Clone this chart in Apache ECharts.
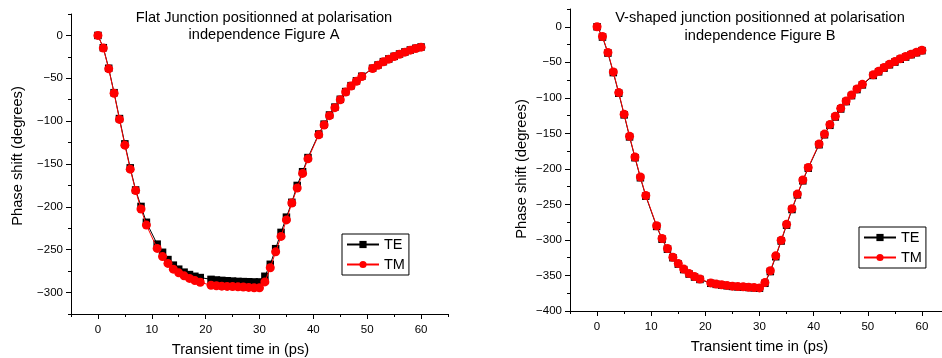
<!DOCTYPE html>
<html>
<head>
<meta charset="utf-8">
<script src="https://cdn.jsdelivr.net/npm/echarts@6/dist/echarts.min.js"></script>
<style>
html,body{margin:0;padding:0;background:#fff;}
#chart{width:942px;height:358px;}
</style>
</head>
<body>
<div id="chart"></div>
<script>
// ---- data ----
var timeX = [0,1,2,3,4,5,6,7,8,9,11,12,13,14,15,16,17,18,19,21,22,23,24,25,26,27,28,29,30,31,32,33,34,35,36,37,38,39,41,42,43,44,45,46,47,48,49,51,52,53,54,55,56,57,58,59,60];

var flatTE = [0,-14.3,-38.3,-66.8,-97,-126.5,-154.5,-180.3,-199.5,-218,
  -243.5,-253,-261.5,-268,-272.7,-276.2,-279,-281,-282.5,
  -284.6,-285.3,-285.8,-286.2,-286.6,-287,-287.2,-287.4,-287.6,-287.6,-281,-267,-248.8,-229.8,-212,-194.7,-175,-159,-142.5,
  -115,-103.5,-92.8,-83.6,-74.5,-65.5,-58.6,-53,-47.6,
  -38.3,-34.5,-30.6,-27.5,-24.4,-21.7,-19.3,-17,-15,-13.5];
var flatTM = [0,-14.8,-39,-67.5,-98,-128,-156,-181,-202.5,-221.3,
  -248.5,-258,-266,-272.7,-277,-280.5,-283.5,-286,-288,
  -291.5,-292,-292.5,-292.8,-293,-293.3,-293.5,-294,-294.5,-294.5,-287.6,-271,-252.5,-234.5,-215.2,-195.5,-178,-161,-144,
  -116,-104.5,-93.6,-84.3,-75,-66,-59,-53.5,-48,
  -38.6,-34.8,-30.8,-27.7,-24.6,-21.9,-19.5,-17.2,-15.2,-13.7];

var vTE = [0,-14.5,-37,-64.5,-93.5,-124,-155,-184.3,-212.5,-238.4,
  -281,-299,-313,-325,-334,-341.7,-348,-352.2,-355.6,
  -361,-362.5,-363.5,-364.5,-365.4,-366,-366.4,-366.9,-367.4,-367.9,-361,-344.5,-323.6,-301.5,-279.2,-257.2,-236.6,-216.8,-199,
  -166,-152,-138.7,-127,-115.7,-105.3,-96.9,-88.4,-81.8,
  -68.5,-63.4,-58.2,-53.5,-49.7,-45.7,-42.6,-39.3,-36.5,-33.6];
var vTM = [0,-13.7,-36.2,-63.5,-92.6,-123,-154,-183.3,-211.5,-237.4,
  -280,-298,-312,-324.3,-333.3,-341,-347.4,-351.6,-355,
  -360.5,-362,-363,-364,-365,-365.5,-366,-366.5,-367,-367.5,-360,-343.3,-322.4,-300.4,-278,-256,-235.5,-215.7,-198,
  -165,-151,-137.7,-126,-114.8,-104.4,-96,-87.5,-81,
  -67.7,-62.6,-57.4,-52.7,-49,-45,-41.9,-38.6,-35.8,-33];

var xMajor = [0,10,20,30,40,50,60];
var xMinor = [-5,5,15,25,35,45,55,65];
var yMajorA = [-300,-250,-200,-150,-100,-50,0];
var yMinorA = [-325,-275,-225,-175,-125,-75,-25,25];
var yMajorB = [-400,-350,-300,-250,-200,-150,-100,-50,0];
var yMinorB = [-375,-325,-275,-225,-175,-125,-75,-25,25];

var titleA = 'Flat Junction positionned at polarisation\nindependence Figure A';
var titleB = 'V-shaped junction positionned at polarisation\nindependence Figure B';
var xName = 'Transient time in (ps)';
var yName = 'Phase shift (degrees)';
var seriesNames = ['TE', 'TM'];

function pairs(xs, ys){ return xs.map(function(x,i){ return [x, ys[i]]; }); }

var FONT = 'Liberation Sans, Arial, sans-serif';
function fmt(v){ return String(v).replace('-', '\u2212'); }

function mainAxis(grid, min, max, major, extra){
  var a = {
    type:'value', gridIndex:grid, min:min, max:max,
    axisLine:{show:true, onZero:false, lineStyle:{color:'#000', width:1}},
    axisTick:{show:true, inside:false, length:5, customValues:major, lineStyle:{color:'#000', width:1}},
    axisLabel:{show:true, customValues:major, color:'#000', fontSize:11.5, fontFamily:FONT, formatter:fmt, margin:8},
    splitLine:{show:false}
  };
  for (var k in extra) a[k] = extra[k];
  return a;
}
function minorAxis(grid, min, max, minor, extra){
  var a = {
    type:'value', gridIndex:grid, min:min, max:max,
    axisLine:{show:false, onZero:false},
    axisTick:{show:true, inside:false, length:3, customValues:minor, lineStyle:{color:'#000', width:1}},
    axisLabel:{show:false},
    splitLine:{show:false}
  };
  for (var k in extra) a[k] = extra[k];
  return a;
}

var nameStyle = {color:'#000', fontSize:14.7, fontFamily:FONT};
var xLabel = {show:true, customValues:xMajor, color:'#000', fontSize:11.5, fontFamily:FONT, margin:10};

var chart = echarts.init(document.getElementById('chart'), null, {renderer:'canvas'});
chart.setOption({
  animation:false,
  backgroundColor:'#fff',
  title:[
    {text:titleA, left:259, top:4, textAlign:'center',
     textStyle:{color:'#000', fontSize:14.6, fontWeight:'normal', fontFamily:FONT, lineHeight:17.5}},
    {text:titleB, left:755, top:4.5, textAlign:'center',
     textStyle:{color:'#000', fontSize:14.6, fontWeight:'normal', fontFamily:FONT, lineHeight:17.5}}
  ],
  grid:[
    {left:71, top:14, width:377, height:300, containLabel:false, outerBoundsMode:'none'},
    {left:570, top:9, width:379, height:302, containLabel:false, outerBoundsMode:'none'}
  ],
  xAxis:[
    mainAxis(0, -5, 65, xMajor, {position:'bottom', axisLabel:xLabel,
      name:xName, nameLocation:'middle', nameGap:28, nameTextStyle:Object.assign({padding:[0,38,0,0]}, nameStyle)}),
    minorAxis(0, -5, 65, xMinor, {position:'bottom'}),
    mainAxis(1, -5, 65, xMajor, {position:'bottom', axisLabel:xLabel,
      name:xName, nameLocation:'middle', nameGap:28, nameTextStyle:nameStyle}),
    minorAxis(1, -5, 65, xMinor, {position:'bottom'})
  ],
  yAxis:[
    mainAxis(0, -325, 25, yMajorA, {position:'left', name:yName, nameLocation:'middle', nameGap:46,
      nameTextStyle:Object.assign({padding:[0,0,0,16]}, nameStyle)}),
    minorAxis(0, -325, 25, yMinorA, {position:'left'}),
    mainAxis(1, -400, 25, yMajorB, {position:'left', name:yName, nameLocation:'middle', nameGap:41,
      nameTextStyle:Object.assign({padding:[0,18,0,0]}, nameStyle)}),
    minorAxis(1, -400, 25, yMinorB, {position:'left'})
  ],
  legend:[
    {data:seriesNames, orient:'vertical', left:342, top:234, itemWidth:32, itemHeight:9, itemGap:5,
     padding:[3,4,3,4], borderColor:'#000', borderWidth:1, borderRadius:0,
     textStyle:{color:'#000', fontSize:14.5, fontFamily:FONT}},
    {data:seriesNames, orient:'vertical', left:859, top:227, itemWidth:32, itemHeight:9, itemGap:5,
     padding:[3,4,3,4], borderColor:'#000', borderWidth:1, borderRadius:0,
     textStyle:{color:'#000', fontSize:14.5, fontFamily:FONT}}
  ],
  series:[
    {name:seriesNames[0], type:'line', xAxisIndex:0, yAxisIndex:0, data:pairs(timeX, flatTE),
     symbol:'rect', symbolSize:7.5, lineStyle:{color:'#000', width:1}, itemStyle:{color:'#000'}, z:2},
    {name:seriesNames[1], type:'line', xAxisIndex:0, yAxisIndex:0, data:pairs(timeX, flatTM),
     symbol:'circle', symbolSize:9, lineStyle:{color:'#ff0000', width:1}, itemStyle:{color:'#ff0000'}, z:3},
    {name:seriesNames[0], type:'line', xAxisIndex:2, yAxisIndex:2, data:pairs(timeX, vTE),
     symbol:'rect', symbolSize:7.5, lineStyle:{color:'#000', width:1}, itemStyle:{color:'#000'}, z:2},
    {name:seriesNames[1], type:'line', xAxisIndex:2, yAxisIndex:2, data:pairs(timeX, vTM),
     symbol:'circle', symbolSize:9, lineStyle:{color:'#ff0000', width:1}, itemStyle:{color:'#ff0000'}, z:3}
  ]
});
</script>
</body>
</html>
